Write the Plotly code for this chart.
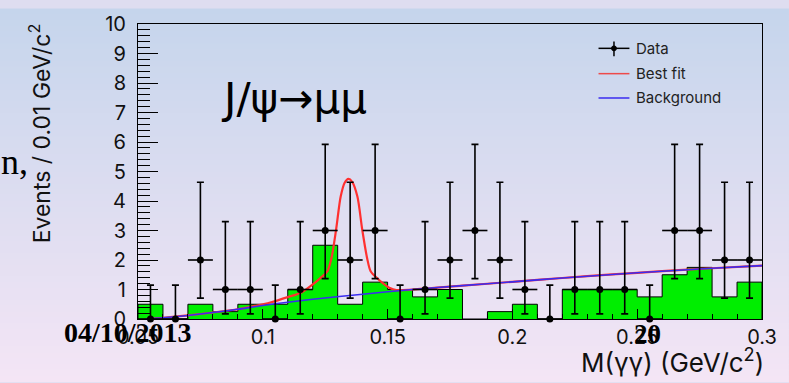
import plotly.graph_objects as go

# ---- data -------------------------------------------------------------
# bin centres of M(gamma gamma) in GeV/c^2 (bin width 0.01)
mass_centers = [0.055, 0.065, 0.075, 0.085, 0.095, 0.105, 0.115, 0.125, 0.135,
                0.145, 0.155, 0.165, 0.175, 0.185, 0.195, 0.205, 0.215, 0.225,
                0.235, 0.245, 0.255, 0.265, 0.275, 0.285, 0.295]
bin_width = 0.01

# observed events per bin
data_counts = [0, 0, 2, 1, 1, 0, 1, 3, 2, 3, 0, 1, 2, 3, 2, 1, 0, 1, 1, 1, 0,
               3, 3, 2, 2]

# filled (green) histogram
green_hist = [0.5, 0.0, 0.5, 0.25, 0.5, 0.5, 1.0, 2.5, 0.5, 1.25, 1.0, 0.75,
              1.0, 0.0, 0.25, 0.5, 0.0, 1.0, 1.0, 1.0, 0.75, 1.5, 1.75, 0.75,
              1.25]

# 68% Poisson intervals (lower, upper) for small counts
poisson_interval = {0: (0.0, 1.148), 1: (0.173, 3.300), 2: (0.708, 4.638),
                    3: (1.367, 5.918)}

# background shape
bkg_x = [0.053, 0.060, 0.070, 0.080, 0.090, 0.100, 0.110, 0.120, 0.140, 0.160,
         0.180, 0.200, 0.220, 0.240, 0.260, 0.280, 0.300]
bkg_y = [0.00, 0.04, 0.12, 0.22, 0.33, 0.46, 0.57, 0.67, 0.84, 1.00, 1.13,
         1.26, 1.39, 1.51, 1.62, 1.72, 1.81]

# best fit (signal peak on top of background)
fit_x = [0.053, 0.060, 0.070, 0.080, 0.090, 0.095, 0.103, 0.1103, 0.1157,
         0.1203, 0.1235, 0.1259, 0.1275, 0.1294, 0.1312, 0.1328, 0.1343,
         0.1358, 0.1379, 0.1398, 0.1418, 0.1432, 0.1456, 0.1482, 0.1509,
         0.1535, 0.160, 0.180, 0.200, 0.220, 0.240, 0.260, 0.280, 0.300]
fit_y = [0.00, 0.04, 0.12, 0.22, 0.33, 0.41, 0.56, 0.75, 0.91,
         1.19, 1.42, 1.62, 2.06, 3.05, 4.15, 4.62, 4.75,
         4.65, 4.15, 3.05, 2.06, 1.62, 1.40, 1.21, 1.05,
         0.98, 1.00, 1.13, 1.26, 1.39, 1.51, 1.62, 1.72, 1.81]

x_tick_vals = [0.05, 0.10, 0.15, 0.20, 0.25, 0.30]
x_tick_text = ["0.05", "0.1", "0.15", "0.2", "0.25", "0.3"]
y_tick_vals = [0, 1, 2, 3, 4, 5, 6, 7, 8, 9, 10]

# ---- geometry helpers (pixel -> paper) -------------------------------
W, H = 789, 383
PL, PR, PT, PB = 138, 764, 16, 319


def px(x):
    return (x - PL) / (PR - PL)


def py(y):
    return (PB - y) / (PB - PT)


# ---- derived arrays ---------------------------------------------------
err_lo = [n - poisson_interval[n][0] for n in data_counts]
err_hi = [poisson_interval[n][1] - n for n in data_counts]

edges = [c - bin_width / 2 for c in mass_centers] + [mass_centers[-1] + bin_width / 2]
step_x = [edges[0]] + edges + [edges[-1]]
step_y = [0.0] + green_hist + [green_hist[-1], 0.0]

fig = go.Figure()

# filled histogram with step outline
fig.add_trace(go.Scatter(
    x=step_x, y=step_y, mode="lines", line_shape="hv",
    line=dict(color="black", width=1), fill="tozeroy", fillcolor="#00ee00",
    hoverinfo="skip", showlegend=False))

# best fit curve
fig.add_trace(go.Scatter(
    x=fit_x, y=fit_y, mode="lines", line_shape="spline",
    line=dict(color="#ff3030", width=2.2, smoothing=0.8),
    showlegend=False))

# background curve
fig.add_trace(go.Scatter(
    x=bkg_x, y=bkg_y, mode="lines", line_shape="spline",
    line=dict(color="#3a2cf0", width=1.6, smoothing=0.8),
    showlegend=False))

# data points with Poisson errors
fig.add_trace(go.Scatter(
    x=mass_centers, y=data_counts, mode="markers",
    marker=dict(color="black", size=7),
    error_y=dict(type="data", symmetric=False, array=err_hi, arrayminus=err_lo,
                 color="black", thickness=1.6, width=3.5),
    error_x=dict(type="data", array=[bin_width / 2] * len(mass_centers),
                 color="black", thickness=1.6, width=0),
    cliponaxis=False, showlegend=False))

# ---- background gradient of the page ----------------------------------
shapes = []
n_bands = 64
top_rgb = (197, 213, 236)
bot_rgb = (244, 229, 245)
for i in range(n_bands):
    t = (i + 0.5) / n_bands
    c = tuple(round(a + (b - a) * t) for a, b in zip(top_rgb, bot_rgb))
    y0 = H * i / n_bands
    y1 = H * (i + 1) / n_bands + 1
    shapes.append(dict(type="rect", xref="paper", yref="paper",
                       x0=px(-2), x1=px(W + 2), y0=py(y1), y1=py(y0),
                       fillcolor="rgb(%d,%d,%d)" % c, line=dict(width=0),
                       layer="below"))

SANS = "Inter, Liberation Sans, sans-serif"

# ---- legend drawn in the top right corner ------------------------------
leg_x0, leg_x1 = 600, 631
leg_rows = [("Data", 41, "black"), ("Best fit", 67, "#ee4a4a"),
            ("Background", 92, "#3a2cf0")]
annotations = []
for label, yy, col in leg_rows:
    shapes.append(dict(type="line", xref="paper", yref="paper",
                       x0=px(leg_x0), x1=px(leg_x1), y0=py(yy), y1=py(yy),
                       line=dict(color=col, width=1.5)))
    annotations.append(dict(text=label, xref="paper", yref="paper",
                            x=px(636), y=py(yy), xanchor="left", yanchor="middle",
                            showarrow=False,
                            font=dict(family=SANS, size=15, color="#222222")))
# error-bar glyph of the data entry
shapes.append(dict(type="line", xref="paper", yref="paper",
                   x0=px(615.5), x1=px(615.5), y0=py(34), y1=py(49),
                   line=dict(color="black", width=1.5)))
shapes.append(dict(type="circle", xref="paper", yref="paper",
                   x0=px(613), x1=px(618), y0=py(43.5), y1=py(38.5),
                   fillcolor="black", line=dict(color="black", width=1)))

# ---- texts -------------------------------------------------------------
annotations += [
    dict(text="J/\u03c8\u2192\u03bc\u03bc", xref="paper", yref="paper",
         x=px(294), y=py(93), xanchor="center", yanchor="middle", showarrow=False,
         font=dict(family="DejaVu Sans", size=42, color="black")),
    dict(text="Events / 0.01 GeV/c<sup>2</sup>", xref="paper", yref="paper",
         x=px(40), y=py(128), xanchor="center", yanchor="middle", textangle=-90,
         showarrow=False,
         font=dict(family=SANS, size=23, color="#111111")),
    dict(text="M(\u03b3\u03b3) (GeV/c<sup>2</sup>)", xref="paper", yref="paper",
         x=px(768), y=py(362), xanchor="right", yanchor="middle", showarrow=False,
         font=dict(family=SANS, size=26, color="#111111")),
    dict(text="n,", xref="paper", yref="paper",
         x=px(-1), y=py(158), xanchor="left", yanchor="middle", showarrow=False,
         font=dict(family="Liberation Serif", size=36, color="black")),
    dict(text="<b>04/10/2013</b>", xref="paper", yref="paper",
         x=px(128), y=py(333), xanchor="center", yanchor="middle", showarrow=False,
         font=dict(family="Liberation Serif", size=28, color="black")),
    dict(text="<b>20</b>", xref="paper", yref="paper",
         x=px(649), y=py(334), xanchor="center", yanchor="middle", showarrow=False,
         font=dict(family="Liberation Serif", size=27, color="black")),
]

axis_font = dict(family=SANS, size=20, color="#111111")

fig.update_layout(
    width=W, height=H,
    margin=dict(l=PL, r=W - PR, t=PT, b=H - PB, pad=0),
    paper_bgcolor="rgb(222,221,240)", plot_bgcolor="rgba(0,0,0,0)",
    shapes=shapes, annotations=annotations, showlegend=False,
    xaxis=dict(range=[0.05, 0.30], tickvals=x_tick_vals, ticktext=x_tick_text,
               showgrid=False, zeroline=False, showline=True, mirror=True,
               linecolor="black", linewidth=1, ticks="inside", ticklen=10,
               tickcolor="black", tickwidth=1, tickfont=axis_font,
               minor=dict(dtick=0.01, ticks="inside", ticklen=5,
                          tickcolor="black", tickwidth=1, showgrid=False)),
    yaxis=dict(range=[0, 10], tickvals=y_tick_vals,
               showgrid=False, zeroline=False, showline=True, mirror=True,
               linecolor="black", linewidth=1, ticks="inside", ticklen=20,
               tickcolor="black", tickwidth=1, tickfont=axis_font,
               ticklabelstandoff=7,
               minor=dict(dtick=0.2, ticks="inside", ticklen=12,
                          tickcolor="black", tickwidth=1, showgrid=False)),
)

fig.write_html("out.html")
